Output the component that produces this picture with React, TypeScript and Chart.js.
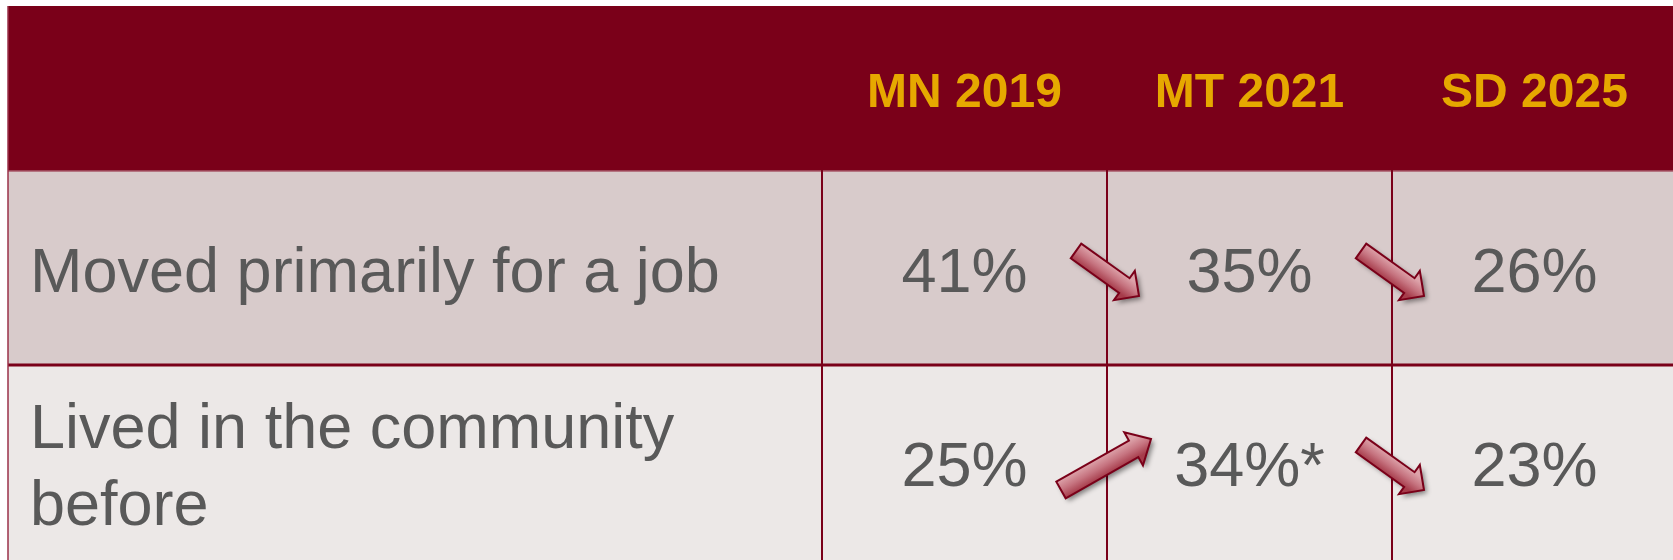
import React, { useEffect, useRef } from "react";
import { Chart, registerables } from "chart.js";

Chart.register(...registerables);

// ---- data ----
const COLUMNS = ["MN 2019", "MT 2021", "SD 2025"];
const ROW_LABELS = [["Moved primarily for a job"], ["Lived in the community", "before"]];
const JOB_VALUES = [41, 35, 26];
const LIVED_VALUES = [25, 34, 23];
const JOB_NOTES = ["", "", ""];
const LIVED_NOTES = ["", "*", ""];
const ROW_VALUES = [JOB_VALUES, LIVED_VALUES];
const ROW_NOTES = [JOB_NOTES, LIVED_NOTES];

// ---- styles ----
const MAROON = "#7A0019";
const GOLD = "#E6A800";
const TEXT = "#595959";
const ROW_BG = ["#D8CBCB", "#ECE8E7"];
const FONT = "'Liberation Sans', Arial, sans-serif";
const TABLE_LEFT = 8;
const TABLE_TOP = 6;
const LABEL_X = 30;

function drawArrow(
  ctx: CanvasRenderingContext2D,
  x0: number, y0: number, x1: number, y1: number,
  sw: number, hw: number, hl: number
) {
  const dx = x1 - x0, dy = y1 - y0;
  const L = Math.hypot(dx, dy);
  const ang = Math.atan2(dy, dx);
  ctx.save();
  ctx.translate(x0, y0);
  ctx.rotate(ang);
  ctx.beginPath();
  ctx.moveTo(0, -sw / 2);
  ctx.lineTo(L - hl, -sw / 2);
  ctx.lineTo(L - hl, -hw / 2);
  ctx.lineTo(L, 0);
  ctx.lineTo(L - hl, hw / 2);
  ctx.lineTo(L - hl, sw / 2);
  ctx.lineTo(0, sw / 2);
  ctx.closePath();
  const g = ctx.createLinearGradient(0, -sw / 2, 0, sw / 2);
  g.addColorStop(0, "#DDA3AA");
  g.addColorStop(0.5, "#C67480");
  g.addColorStop(1, "#A63C4B");
  ctx.shadowColor = "rgba(0,0,0,0.45)";
  ctx.shadowOffsetX = 3;
  ctx.shadowOffsetY = 3;
  ctx.shadowBlur = 5;
  ctx.fillStyle = g;
  ctx.fill();
  ctx.shadowColor = "transparent";
  ctx.lineWidth = 2;
  ctx.strokeStyle = MAROON;
  ctx.lineJoin = "miter";
  ctx.stroke();
  ctx.restore();
}

const tablePlugin = {
  id: "tablePlugin",
  beforeDraw(chart: any) {
    const { ctx, chartArea, scales } = chart;
    const xs = scales.x, ys = scales.y;
    const right = chart.width;
    const bottom = chart.height;
    ctx.save();
    ctx.fillStyle = MAROON;
    ctx.fillRect(TABLE_LEFT, TABLE_TOP, right - TABLE_LEFT, chartArea.top - TABLE_TOP);
    ROW_LABELS.forEach((_, r) => {
      const top = ys.getPixelForValue(r - 0.5);
      const bot = r === ROW_LABELS.length - 1 ? bottom : ys.getPixelForValue(r + 0.5);
      ctx.fillStyle = ROW_BG[r % ROW_BG.length];
      ctx.fillRect(TABLE_LEFT, top, right - TABLE_LEFT, bot - top);
    });
    ctx.strokeStyle = "#A85868";
    ctx.lineWidth = 1.5;
    ctx.beginPath();
    ctx.moveTo(TABLE_LEFT, chartArea.top);
    ctx.lineTo(right, chartArea.top);
    ctx.stroke();
    for (let r = 1; r < ROW_LABELS.length; r++) {
      const y = ys.getPixelForValue(r - 0.5);
      ctx.strokeStyle = MAROON;
      ctx.lineWidth = 3;
      ctx.beginPath();
      ctx.moveTo(TABLE_LEFT, y);
      ctx.lineTo(right, y);
      ctx.stroke();
    }
    ctx.strokeStyle = MAROON;
    ctx.lineWidth = 2;
    for (let c = -1; c < COLUMNS.length - 1; c++) {
      const x = Math.round(xs.getPixelForValue(c + 0.5));
      ctx.beginPath();
      ctx.moveTo(x, TABLE_TOP);
      ctx.lineTo(x, bottom);
      ctx.stroke();
    }
    ctx.strokeStyle = "#9A3048";
    ctx.lineWidth = 1.5;
    ctx.beginPath();
    ctx.moveTo(TABLE_LEFT, TABLE_TOP);
    ctx.lineTo(TABLE_LEFT, bottom);
    ctx.stroke();
    ctx.restore();
  },
  afterDatasetsDraw(chart: any) {
    const { ctx, chartArea, scales } = chart;
    const xs = scales.x, ys = scales.y;
    ctx.save();
    const headerMid = (TABLE_TOP + chartArea.top) / 2;
    ctx.fillStyle = GOLD;
    ctx.font = `bold 48px ${FONT}`;
    ctx.textAlign = "center";
    ctx.textBaseline = "alphabetic";
    COLUMNS.forEach((c, i) => {
      ctx.fillText(c, xs.getPixelForValue(i), headerMid + 18);
    });
    ctx.fillStyle = TEXT;
    ctx.font = `63px ${FONT}`;
    ctx.textAlign = "left";
    ROW_LABELS.forEach((lines, r) => {
      const yc = ys.getPixelForValue(r);
      lines.forEach((ln, k) => {
        const y = yc + 24 + (k - (lines.length - 1) / 2) * 77;
        ctx.fillText(ln, LABEL_X, y);
      });
    });
    ctx.textAlign = "center";
    chart.data.datasets.forEach((ds: any, r: number) => {
      const meta = chart.getDatasetMeta(r);
      meta.data.forEach((el: any, i: number) => {
        const v = ROW_VALUES[r][i];
        ctx.fillText(`${v}%${ROW_NOTES[r][i]}`, el.x, el.y + 24);
      });
    });
    chart.data.datasets.forEach((ds: any, r: number) => {
      const meta = chart.getDatasetMeta(r);
      for (let i = 0; i < meta.data.length - 1; i++) {
        const a = meta.data[i], b = meta.data[i + 1];
        const xb = (a.x + b.x) / 2 + 3;
        const yc = a.y;
        const up = ROW_VALUES[r][i + 1] > ROW_VALUES[r][i];
        if (up) {
          drawArrow(ctx, xb - 49, yc + 28, xb + 41, yc - 23, 19, 38, 20);
        } else {
          drawArrow(ctx, xb - 34, yc - 17, xb + 29, yc + 28, 18, 36, 18);
        }
      }
    });
    ctx.restore();
  },
};

export default function App() {
  const ref = useRef<HTMLCanvasElement | null>(null);
  useEffect(() => {
    document.body.style.margin = "0";
    document.body.style.overflow = "hidden";
    const canvas = ref.current;
    if (!canvas) return;
    const chart = new Chart(canvas, {
      type: "scatter",
      data: {
        datasets: ROW_VALUES.map((vals, r) => ({
          label: ROW_LABELS[r].join(" "),
          data: vals.map((v, i) => ({ x: i, y: r })),
          pointRadius: 0,
          pointHoverRadius: 0,
          showLine: false,
        })),
      },
      options: {
        animation: false,
        responsive: false,
        devicePixelRatio: 1,
        events: [],
        layout: { padding: { left: 822, top: 171, right: 0, bottom: 1 } },
        plugins: { legend: { display: false }, tooltip: { enabled: false } },
        scales: {
          x: { type: "linear", min: -0.5, max: COLUMNS.length - 0.5, display: false },
          y: { type: "linear", min: -0.5, max: ROW_LABELS.length - 0.5, reverse: true, display: false },
        },
      },
      plugins: [tablePlugin],
    });
    return () => chart.destroy();
  }, []);
  return (
    <div style={{ width: 1673, height: 560, overflow: "hidden", background: "#fff" }}>
      <canvas ref={ref} width={1677} height={560} style={{ width: 1677, height: 560, display: "block" }} />
    </div>
  );
}
